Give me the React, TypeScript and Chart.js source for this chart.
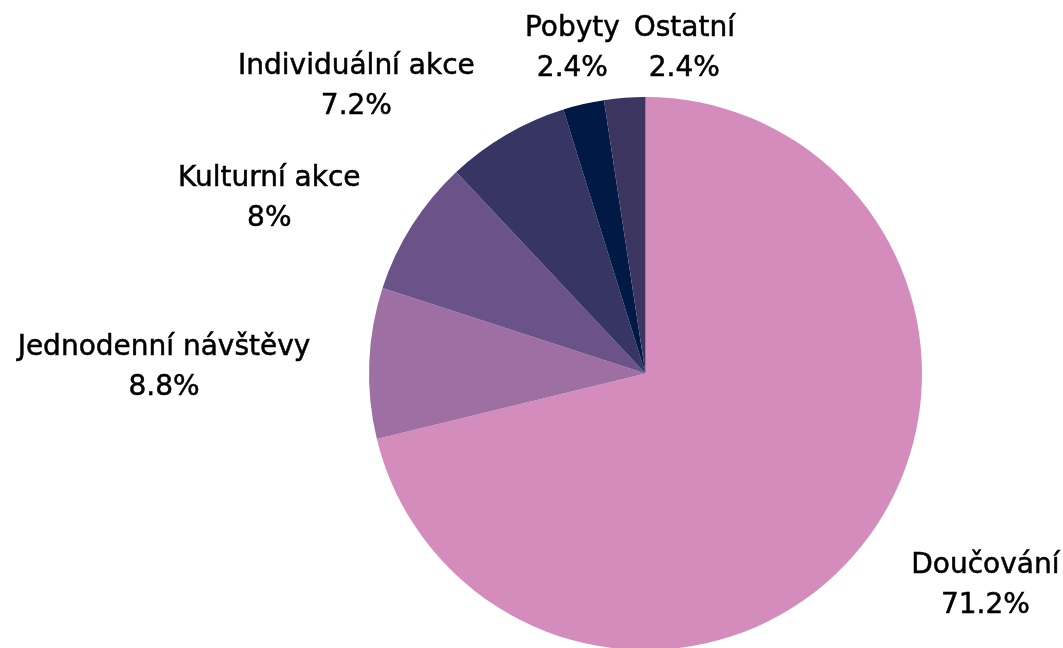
import React, { useEffect, useRef } from "react";
import { Chart, registerables } from "chart.js";

Chart.register(...registerables);

const categories = ["Doučování", "Jednodenní návštěvy", "Kulturní akce", "Individuální akce", "Pobyty", "Ostatní"];
const shares = [71.2, 8.8, 8, 7.2, 2.4, 2.4];
const valueLabels = ["71.2%", "8.8%", "8%", "7.2%", "2.4%", "2.4%"];
const sliceColors = ["#D48CBD", "#9E6FA3", "#6B5289", "#363563", "#001A45", "#3C3560"];
// label nudges (px) relative to an outside-end placement
const labelNudges: [number, number][] = [[17, -20], [1, 8], [-15, 27], [-60, 38], [13, 42], [68, 51]];

const FONT = "28px 'DejaVu Sans'";
const LINE_H = 40;
const GAP = 60;

const outsideLabels = {
  id: "outsideLabels",
  afterDatasetsDraw(chart: any) {
    const ctx = chart.ctx;
    const meta = chart.getDatasetMeta(0);
    ctx.save();
    ctx.font = FONT;
    ctx.fillStyle = "#000000";
    ctx.strokeStyle = "#000000";
    ctx.lineWidth = 0.5;
    ctx.textAlign = "center";
    ctx.textBaseline = "middle";
    meta.data.forEach((arc: any, i: number) => {
      const p = arc.getProps(["x", "y", "startAngle", "endAngle", "outerRadius"], true);
      const mid = (p.startAngle + p.endAngle) / 2;
      const cx = Math.cos(mid), cy = Math.sin(mid);
      const lines = [categories[i], valueLabels[i]];
      const w = Math.max(...lines.map((l) => ctx.measureText(l).width));
      const h = LINE_H * 2;
      const ax = p.x + (p.outerRadius + GAP) * cx;
      const ay = p.y + (p.outerRadius + GAP) * cy;
      const bx = ax + cx * w / 2 + labelNudges[i][0];
      const by = ay + cy * h / 2 + labelNudges[i][1];
      lines.forEach((l, k) => {
        const ty = by + (k - 0.5) * LINE_H;
        ctx.fillText(l, bx, ty);
        ctx.strokeText(l, bx, ty);
      });
    });
    ctx.restore();
  },
};

export default function App() {
  const ref = useRef<HTMLCanvasElement>(null);
  useEffect(() => {
    document.body.style.margin = "0";
    document.body.style.overflow = "hidden";
    const chart = new Chart(ref.current!, {
      type: "pie",
      data: {
        labels: categories,
        datasets: [
          {
            data: shares,
            backgroundColor: sliceColors,
            borderWidth: 0,
          },
        ],
      },
      options: {
        animation: false,
        responsive: true,
        maintainAspectRatio: false,
        layout: { padding: { left: 369, right: 141, top: 97, bottom: 6 } },
        plugins: { legend: { display: false }, tooltip: { enabled: false } },
      },
      plugins: [outsideLabels],
    });
    return () => chart.destroy();
  }, []);
  return (
    <div style={{ position: "fixed", left: 0, top: 0, width: 1063, height: 648, overflow: "hidden", background: "#fff" }}>
      <div style={{ position: "relative", width: 1063, height: 656 }}>
        <canvas ref={ref} />
      </div>
    </div>
  );
}
